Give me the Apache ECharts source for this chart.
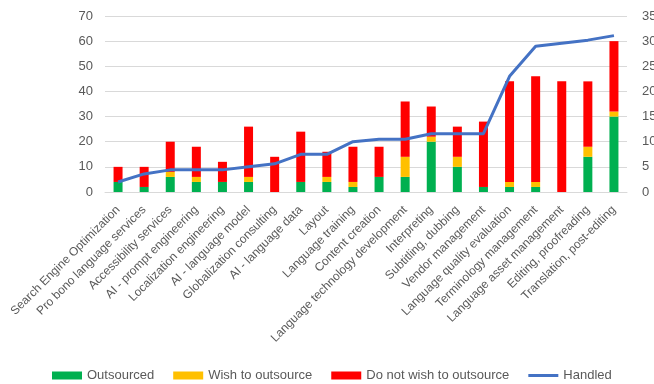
<!DOCTYPE html>
<html>
<head>
<meta charset="utf-8">
<script src="https://cdn.jsdelivr.net/npm/echarts@6/dist/echarts.min.js"></script>
<style>
  html, body { margin: 0; padding: 0; background: #fff; }
  #chart { width: 654px; height: 384px; }
</style>
</head>
<body>
<div id="chart"></div>
<script>
// categories along the x axis
const categories = [
  'Search Engine Optimization', 'Pro bono language services', 'Accessibility services',
  'AI - prompt engineering', 'Localization engineering', 'AI - language model',
  'Globalization consulting', 'AI - language data', 'Layout', 'Language training',
  'Content creation', 'Language technology development', 'Interpreting',
  'Subtitling, dubbing', 'Vendor management', 'Language quality evaluation',
  'Terminology management', 'Language asset management', 'Editing, proofreading',
  'Translation, post-editing'
];
// stacked bar values (left axis)
const outsourced   = [4, 2, 6, 4, 4, 4, 0, 4, 4, 2, 6, 6, 20, 10, 2, 2, 2, 0, 14, 30];
const wishOutsource = [0, 0, 2, 2, 0, 2, 0, 0, 2, 2, 0, 8, 2, 4, 0, 2, 2, 0, 4, 2];
const notWish      = [6, 8, 12, 12, 8, 20, 14, 20, 10, 14, 12, 22, 12, 12, 26, 40, 42, 44, 26, 28];
// line values (right axis)
const handled = [2, 3.6, 4.4, 4.4, 4.4, 5, 5.6, 7.5, 7.5, 10, 10.5, 10.5, 11.6, 11.6, 11.6, 23, 29, 29.6, 30.2, 31.1];

const leftTicks = { min: 0, max: 70, interval: 10 };
const rightTicks = { min: 0, max: 35, interval: 5 };

const chart = echarts.init(document.getElementById('chart'));
const txt = '#595959';
const font = 'Liberation Sans';

const barSeries = (name, data, color) => ({
  name: name,
  type: 'bar',
  stack: 'total',
  barWidth: 9,
  data: data,
  itemStyle: { color: color },
  emphasis: { disabled: true }
});

chart.setOption({
  animation: false,
  textStyle: { fontFamily: font },
  grid: { left: 105, right: 27, top: 16, bottom: 192, outerBoundsMode: 'none' },
  legend: {
    top: 369,
    left: 52,
    padding: 0,
    itemWidth: 30,
    itemHeight: 8,
    itemGap: 19,
    textStyle: { color: txt, fontSize: 13, fontFamily: font },
    data: [
      { name: 'Outsourced', icon: 'rect' },
      { name: 'Wish to outsource', icon: 'rect' },
      { name: 'Do not wish to outsource', icon: 'rect' },
      { name: 'Handled', icon: 'path://M0,0 H30 V3 H0 Z', symbolKeepAspect: true }
    ]
  },
  xAxis: {
    type: 'category',
    data: categories,
    axisTick: { show: false },
    axisLine: { lineStyle: { color: '#d9d9d9' } },
    axisLabel: { rotate: 45, interval: 0, color: txt, fontSize: 12, margin: 16 }
  },
  yAxis: [
    {
      type: 'value',
      min: leftTicks.min, max: leftTicks.max, interval: leftTicks.interval,
      axisLabel: { color: txt, fontSize: 13, margin: 12 },
      splitLine: { lineStyle: { color: '#d9d9d9' } }
    },
    {
      type: 'value',
      min: rightTicks.min, max: rightTicks.max, interval: rightTicks.interval,
      axisLabel: { color: txt, fontSize: 13, margin: 15 },
      splitLine: { show: false }
    }
  ],
  series: [
    barSeries('Outsourced', outsourced, '#00b050'),
    barSeries('Wish to outsource', wishOutsource, '#ffc000'),
    barSeries('Do not wish to outsource', notWish, '#ff0000'),
    {
      name: 'Handled',
      type: 'line',
      yAxisIndex: 1,
      data: handled,
      symbol: 'none',
      lineStyle: { color: '#4472c4', width: 3 },
      itemStyle: { color: '#4472c4' },
      z: 5
    }
  ]
});
</script>
</body>
</html>
